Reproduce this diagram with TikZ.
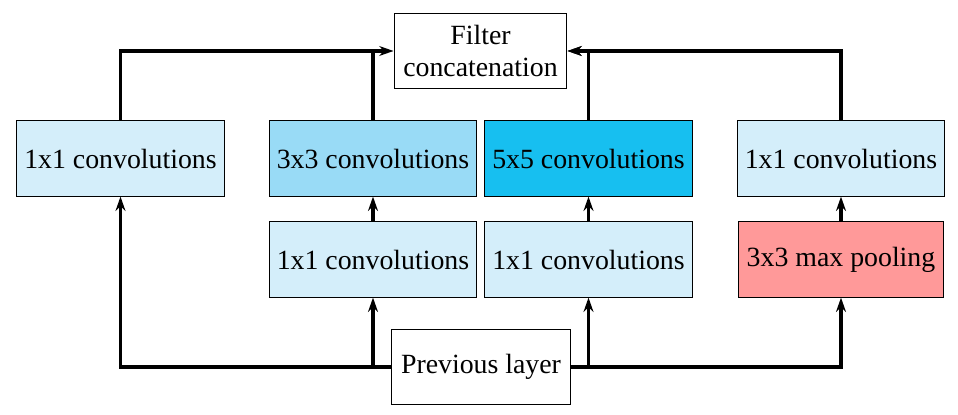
\documentclass[tikz,border=0pt]{standalone}
\usepackage{fontspec}
\setmainfont{Liberation Serif}
\usetikzlibrary{arrows.meta}
\definecolor{lightb}{HTML}{D4EEFA}
\definecolor{midb}{HTML}{99DBF6}
\definecolor{darkb}{HTML}{17BFF0}
\definecolor{pinkr}{HTML}{FF9999}
\tikzset{
  blk/.style={draw=black, line width=0.4pt, inner sep=0pt, align=center, font=\fontsize{10.7pt}{12.5pt}\selectfont},
  wide/.style={minimum width=79.8pt, minimum height=28.9pt},
  conn/.style={line width=1.25pt},
  heavy/.style={line width=1.8pt},
  arr/.style={conn, -{Stealth[length=5.5pt,width=3.8pt,inset=1.8pt]}},
}
\begin{document}
\begin{tikzpicture}[x=0.3846pt, y=-0.3846pt]
\useasboundingbox (0,0) rectangle (958,415);
\node[blk, minimum width=66.5pt, minimum height=29.2pt] (concat) at (480.5,51) {Filter\\concatenation};
\node[blk, wide, fill=lightb] (c1) at (120.5,158.5) {1x1 convolutions};
\node[blk, wide, fill=midb] (c3) at (373,158.5) {3x3 convolutions};
\node[blk, wide, fill=darkb] (c5) at (588.5,158.5) {5x5 convolutions};
\node[blk, wide, fill=lightb] (c1r) at (841,158.5) {1x1 convolutions};
\node[blk, wide, fill=lightb] (ra) at (373,259.5) {1x1 convolutions};
\node[blk, wide, fill=lightb] (rb) at (588.5,259.5) {1x1 convolutions};
\node[blk, minimum width=78.5pt, minimum height=28.9pt, fill=pinkr] (pool) at (841,259.5) {3x3 max pooling};
\node[blk, minimum width=68.5pt, minimum height=29.2pt, fill=white] (prev) at (481,367) {Previous layer};
\coordinate (topa) at (c3.north |- concat.west);
\coordinate (bota) at (ra.south |- prev.west);
% top connectors
\draw[arr] (c1.north) |- (concat.west);
\draw[conn, heavy] (c3.north) -- (topa);
\draw[arr] (c5.north) |- (concat.east);
\draw[arr] (c1r.north) |- (concat.east);
% middle connectors
\draw[arr, heavy] (ra.north) -- (c3.south);
\draw[arr] (rb.north) -- (c5.south);
\draw[arr] (pool.north) -- (c1r.south);
% bottom connectors
\draw[arr] (prev.west) -| (c1.south);
\draw[heavy] (bota) -- ([yshift=-5pt]ra.south);
\draw[arr] (prev.west) -| (ra.south);
\draw[arr] (prev.east) -| (rb.south);
\draw[arr] (prev.east) -| (pool.south);
\end{tikzpicture}
\end{document}
